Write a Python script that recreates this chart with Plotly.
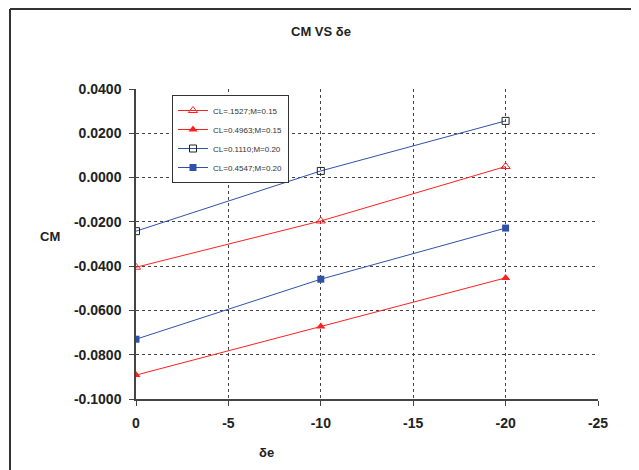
import plotly.graph_objects as go

de = [0, -10, -20]
cm_a = [-0.0405, -0.0196, 0.0050]   # CL=.1527;M=0.15
cm_b = [-0.0892, -0.0673, -0.0453]  # CL=0.4963;M=0.15
cm_c = [-0.0242, 0.0030, 0.0256]    # CL=0.1110;M=0.20
cm_d = [-0.0730, -0.0459, -0.0228]  # CL=0.4547;M=0.20
names = ["CL=.1527;M=0.15", "CL=0.4963;M=0.15", "CL=0.1110;M=0.20", "CL=0.4547;M=0.20"]

x_ticks = [0, -5, -10, -15, -20, -25]
x_text = ["0", "-5", "-10", "-15", "-20", "-25"]
y_ticks = [0.04, 0.02, 0.0, -0.02, -0.04, -0.06, -0.08, -0.10]
y_text = ["0.0400", "0.0200", "0.0000", "-0.0200", "-0.0400", "-0.0600", "-0.0800", "-0.1000"]

RED = "#FF2020"
BLUE = "#2F52A8"

# plot area in page pixels (page has 8px body margin)
PL, PR, PT, PB = 136, 598, 89, 399
PW, PH = PR - PL, PB - PT
OFF = 8


def px(x):
    return (x - PL) / PW


def py(y):
    return (PB - y) / PH


fig = go.Figure()
fig.add_trace(go.Scatter(x=de, y=cm_a, name=names[0], mode="lines+markers",
                         line=dict(color=RED, width=1),
                         marker=dict(symbol="triangle-up-open", size=8, color=RED, line=dict(width=1, color=RED))))
fig.add_trace(go.Scatter(x=de, y=cm_b, name=names[1], mode="lines+markers",
                         line=dict(color=RED, width=1),
                         marker=dict(symbol="triangle-up", size=8, color=RED)))
fig.add_trace(go.Scatter(x=de, y=cm_c, name=names[2], mode="lines+markers",
                         line=dict(color=BLUE, width=1),
                         marker=dict(symbol="square-open", size=7, color="#222222", line=dict(width=1, color="#222222"))))
fig.add_trace(go.Scatter(x=de, y=cm_d, name=names[3], mode="lines+markers",
                         line=dict(color=BLUE, width=1),
                         marker=dict(symbol="square", size=7, color=BLUE)))

axis_font = dict(family="Liberation Sans, Arial", size=14, color="#222222", weight="bold")
lab_font = dict(family="Liberation Sans, Arial", size=13, color="#222222", weight="bold")

fig.update_layout(
    width=639, height=470,
    margin=dict(l=PL - OFF, r=639 + OFF - PR, t=PT - OFF, b=470 + OFF - PB, pad=0),
    paper_bgcolor="white", plot_bgcolor="white",
    showlegend=True,
    legend=dict(x=px(172), y=py(95), xanchor="left", yanchor="top",
                bgcolor="white", bordercolor="#333333", borderwidth=1,
                font=dict(family="Liberation Sans, Arial", size=8, color="#333333"),
                tracegroupgap=0, itemwidth=30),
    xaxis=dict(range=[0, -25], tickvals=x_ticks, ticktext=x_text, tickfont=axis_font,
               showgrid=True, gridcolor="#444444", griddash="dot", gridwidth=1,
               showline=True, linecolor="#444444", linewidth=1.5,
               ticks="outside", ticklen=5, tickcolor="#444444", zeroline=False,
               ticklabelstandoff=5),
    yaxis=dict(range=[-0.1, 0.04], tickvals=y_ticks, ticktext=y_text, tickfont=axis_font,
               showgrid=True, gridcolor="#444444", griddash="dot", gridwidth=1,
               showline=True, linecolor="#444444", linewidth=1.5,
               ticks="outside", ticklen=5, tickcolor="#444444", zeroline=False,
               ticklabelstandoff=5),
    annotations=[
        dict(text="CM VS δe", x=px(321), y=py(31), xref="paper", yref="paper",
             xanchor="center", yanchor="middle", showarrow=False, font=lab_font),
        dict(text="CM", x=px(50), y=py(236), xref="paper", yref="paper",
             xanchor="center", yanchor="middle", showarrow=False, font=lab_font),
        dict(text="δe", x=px(266), y=py(452), xref="paper", yref="paper",
             xanchor="center", yanchor="middle", showarrow=False, font=lab_font),
    ],
    shapes=[
        dict(type="line", xref="paper", yref="paper", x0=px(10), x1=px(10),
             y0=py(490), y1=py(9), line=dict(color="#333333", width=2)),
        dict(type="line", xref="paper", yref="paper", x0=px(10), x1=px(660),
             y0=py(9), y1=py(9), line=dict(color="#333333", width=2)),
    ],
)

fig.write_html("out.html")
